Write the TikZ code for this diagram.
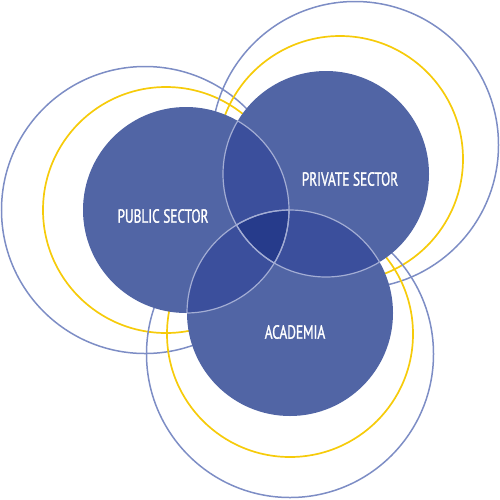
\documentclass[tikz,border=0pt]{standalone}
\usepackage{fontspec}
\newfontfamily\sectorfont[FakeStretch=0.70, FakeBold=1.2]{PT Sans}
\usetikzlibrary{positioning}

\definecolor{sectorblue}{HTML}{5165A5}
\definecolor{pairblue}{HTML}{3B4F9C}
\definecolor{coreblue}{HTML}{263B8B}
\definecolor{rimgray}{HTML}{A3ADD4}
\definecolor{ringblue}{HTML}{7D8DC5}
\definecolor{ringgold}{HTML}{F6CB0A}

\begin{document}
\begin{tikzpicture}[
        x=1pt, y=-1pt,
        sector/.style={circle, fill=sectorblue, minimum size=206pt, inner sep=0pt, outer sep=0pt},
        outerring/.style={draw=ringblue, line width=1.5pt},
        innerring/.style={draw=ringgold, line width=1.7pt},
        rim/.style={draw=rimgray, line width=1.2pt},
        sectorlabel/.style={text=white, font=\sectorfont\fontsize{19}{19}\selectfont}
    ]
        \useasboundingbox (0,0) rectangle (500,499);

        % Centres of the three sectors
        \coordinate (pubc) at (186,210);
        \coordinate (privc) at (326,174);
        \coordinate (acadc) at (290,313);

        % Rings behind each sector
        \draw[outerring] (145,210) circle (143.5pt);
        \draw[innerring] (166,210) circle (123pt);
        \draw[outerring] (355,145) circle (143.5pt);
        \draw[innerring] (340,159) circle (123pt);
        \draw[outerring] (290,354) circle (143.5pt);
        \draw[innerring] (290,334) circle (123pt);

        % Sector discs
        \node[sector] (pub) at (pubc) {};
        \node[sector] (priv) at (privc) {};
        \node[sector] (acad) at (acadc) {};

        % Pairwise overlaps
        \begin{scope}
            \clip (pubc) circle (103pt);
            \fill[pairblue] (privc) circle (103pt);
            \fill[pairblue] (acadc) circle (103pt);
        \end{scope}
        \begin{scope}
            \clip (privc) circle (103pt);
            \fill[pairblue] (acadc) circle (103pt);
        \end{scope}
        % Common core
        \begin{scope}
            \clip (pubc) circle (103pt);
            \clip (privc) circle (103pt);
            \fill[coreblue] (acadc) circle (103pt);
        \end{scope}

        % Light rims inside the other discs
        \foreach \a/\b in {pubc/privc, pubc/acadc, privc/pubc, privc/acadc, acadc/pubc, acadc/privc} {
            \begin{scope}
                \clip (\b) circle (103pt);
                \draw[rim] (\a) circle (103pt);
            \end{scope}
        }

        % Labels
        \node[sectorlabel] (publbl) at (163,216) {PUBLIC SECTOR};
        \node[sectorlabel] (privlbl) at (350,179) {PRIVATE SECTOR};
        \node[sectorlabel] (acadlbl) at (295,332) {ACADEMIA};

    \end{tikzpicture}
\end{document}
